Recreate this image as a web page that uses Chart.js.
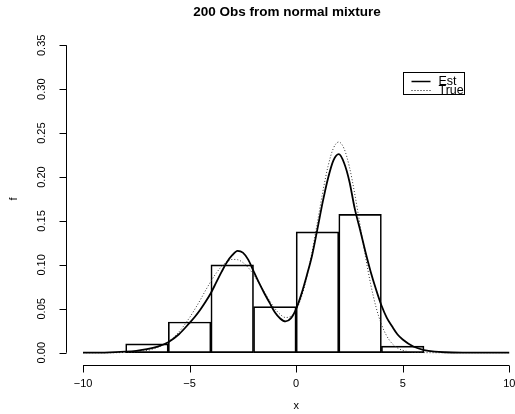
<!DOCTYPE html>
<html>
<head>
<meta charset="utf-8">
<script src="https://cdn.jsdelivr.net/npm/chart.js@4.4.1/dist/chart.umd.min.js"></script>
<style>
  body { margin: 0; background: #fff; }
  #wrap { width: 515px; height: 414px; }
</style>
</head>
<body>
<div id="wrap"><canvas id="grafico" width="515" height="414"></canvas></div>
<script>
const titulo = '200 Obs from normal mixture';
const xTitle = 'x';
const yTitle = 'f';

// histograma (densidad)
const histBreaks = [-8, -6, -4, -2, 0, 2, 4, 6];
const histDensity = [0.01, 0.035, 0.1, 0.0525, 0.1375, 0.1575, 0.0075];

// curvas
const gridX = [
  -10, -9, -8, -7.5, -7, -6.5, -6, -5.5, -5,
  -4.75, -4.5, -4.25, -4, -3.75, -3.5, -3.25, -3, -2.75,
  -2.5, -2.25, -2, -1.75, -1.5, -1.25, -1, -0.75, -0.5,
  -0.25, 0, 0.25, 0.5, 0.75, 1, 1.25, 1.5, 1.75,
  2, 2.25, 2.5, 2.75, 3, 3.25, 3.5, 3.75, 4,
  4.25, 4.5, 4.75, 5, 5.5, 6, 6.5, 7, 8, 9, 10
];
const estY = [
  0, 0.0002, 0.0012, 0.0022, 0.004, 0.007, 0.012, 0.021, 0.034,
  0.041, 0.049, 0.058, 0.068, 0.080, 0.092, 0.103, 0.111, 0.116,
  0.114, 0.106, 0.093, 0.080, 0.068, 0.057, 0.046, 0.039, 0.0356,
  0.039, 0.050, 0.067, 0.088, 0.111, 0.141, 0.172, 0.199, 0.219,
  0.226, 0.216, 0.195, 0.164, 0.140, 0.115, 0.092, 0.072, 0.054,
  0.040, 0.030, 0.021, 0.015, 0.007, 0.003, 0.0012, 0.0005, 0.0001, 0, 0
];
const trueY = [
  0, 0, 0.0003, 0.001, 0.0025, 0.006, 0.0126, 0.0237, 0.040,
  0.0497, 0.060, 0.071, 0.0813, 0.0906, 0.0982, 0.1035, 0.1062, 0.1059,
  0.1027, 0.0969, 0.089, 0.0795, 0.0693, 0.0593, 0.0504, 0.0436, 0.0401,
  0.0414, 0.0488, 0.0635, 0.0859, 0.1151, 0.1488, 0.183, 0.2127, 0.2329,
  0.2399, 0.2323, 0.2115, 0.1808, 0.1453, 0.1097, 0.0777, 0.0518, 0.0324,
  0.0191, 0.0105, 0.0055, 0.0027, 0.0005, 0.0001, 0, 0, 0, 0, 0
];

const xTicks = [-10, -5, 0, 5, 10];
const xTickLabels = ['\u221210', '\u22125', '0', '5', '10'];
const yTicks = [0, 0.05, 0.1, 0.15, 0.2, 0.25, 0.3, 0.35];
const yTickLabels = ['0.00', '0.05', '0.10', '0.15', '0.20', '0.25', '0.30', '0.35'];
const legendLabels = ['Est', 'True'];
const legendAt = { x: 5, y: 0.32 };

const FONT = '"Liberation Sans", Arial, Helvetica, sans-serif';

const barras = histDensity.map((d, i) => ({ x: (histBreaks[i] + histBreaks[i + 1]) / 2, y: d }));
const puntosEst = gridX.map((x, i) => ({ x: x, y: estY[i] }));
const puntosTrue = gridX.map((x, i) => ({ x: x, y: trueY[i] }));

// ejes estilo R, titulo y leyenda
const ejesR = {
  id: 'ejesR',
  afterDraw(chart) {
    const ctx = chart.ctx;
    const xs = chart.scales.x;
    const ys = chart.scales.y;
    const area = chart.chartArea;
    ctx.save();
    ctx.strokeStyle = '#000';
    ctx.fillStyle = '#000';
    ctx.lineWidth = 1;

    // eje x
    const yAx = Math.round(area.bottom) + 0.5;
    ctx.beginPath();
    ctx.moveTo(xs.getPixelForValue(xTicks[0]), yAx);
    ctx.lineTo(xs.getPixelForValue(xTicks[xTicks.length - 1]), yAx);
    xTicks.forEach(v => {
      const px = Math.round(xs.getPixelForValue(v)) + 0.5;
      ctx.moveTo(px, yAx);
      ctx.lineTo(px, yAx + 7);
    });
    ctx.stroke();
    ctx.font = '11px ' + FONT;
    ctx.textAlign = 'center';
    ctx.textBaseline = 'middle';
    xTicks.forEach((v, i) => {
      ctx.fillText(xTickLabels[i], xs.getPixelForValue(v), yAx + 18);
    });
    ctx.fillText(xTitle, xs.getPixelForValue(0), yAx + 40);

    // eje y
    const xAx = Math.round(area.left) + 0.5;
    ctx.beginPath();
    ctx.moveTo(xAx, ys.getPixelForValue(yTicks[0]));
    ctx.lineTo(xAx, ys.getPixelForValue(yTicks[yTicks.length - 1]));
    yTicks.forEach(v => {
      const py = Math.round(ys.getPixelForValue(v)) + 0.5;
      ctx.moveTo(xAx, py);
      ctx.lineTo(xAx - 7, py);
    });
    ctx.stroke();
    yTicks.forEach((v, i) => {
      ctx.save();
      ctx.translate(xAx - 25, ys.getPixelForValue(v));
      ctx.rotate(-Math.PI / 2);
      ctx.fillText(yTickLabels[i], 0, 0);
      ctx.restore();
    });
    ctx.save();
    const midY = (ys.getPixelForValue(yTicks[0]) + ys.getPixelForValue(yTicks[yTicks.length - 1])) / 2;
    ctx.translate(xAx - 53, midY);
    ctx.rotate(-Math.PI / 2);
    ctx.fillText(yTitle, 0, 0);
    ctx.restore();

    // titulo
    ctx.font = 'bold 13.5px ' + FONT;
    ctx.fillText(titulo, 287, 12);

    // leyenda
    const lx = Math.round(xs.getPixelForValue(legendAt.x)) + 0.5;
    const ly = Math.round(ys.getPixelForValue(legendAt.y)) + 0.5;
    ctx.strokeRect(lx, ly, 61, 22);
    ctx.lineWidth = 1.5;
    ctx.beginPath();
    ctx.moveTo(lx + 8, ly + 9);
    ctx.lineTo(lx + 27, ly + 9);
    ctx.stroke();
    ctx.lineWidth = 1;
    ctx.setLineDash([1, 2]);
    ctx.beginPath();
    ctx.moveTo(lx + 8, ly + 18);
    ctx.lineTo(lx + 27, ly + 18);
    ctx.stroke();
    ctx.setLineDash([]);
    ctx.font = '12.5px ' + FONT;
    ctx.textAlign = 'left';
    ctx.fillText(legendLabels[0], lx + 35, ly + 9);
    ctx.fillText(legendLabels[1], lx + 35, ly + 18.5);
    ctx.restore();
  }
};

const ctx = document.getElementById('grafico').getContext('2d');
new Chart(ctx, {
  type: 'bar',
  data: {
    datasets: [
      {
        type: 'line',
        label: legendLabels[0],
        data: puntosEst,
        borderColor: '#000',
        borderWidth: 1.8,
        pointRadius: 0,
        cubicInterpolationMode: 'monotone',
        fill: false,
        order: 0
      },
      {
        type: 'line',
        label: legendLabels[1],
        data: puntosTrue,
        borderColor: '#333',
        borderWidth: 1,
        borderDash: [1, 2],
        pointRadius: 0,
        cubicInterpolationMode: 'monotone',
        fill: false,
        order: 1
      },
      {
        type: 'bar',
        label: 'hist',
        data: barras,
        backgroundColor: 'rgba(0,0,0,0)',
        borderColor: '#000',
        borderWidth: 1,
        borderSkipped: false,
        barPercentage: 1,
        categoryPercentage: 1,
        order: 2
      }
    ]
  },
  options: {
    responsive: false,
    animation: false,
    devicePixelRatio: 1,
    layout: {
      padding: { left: 66, top: 33, right: 0, bottom: 49 }
    },
    scales: {
      x: {
        type: 'linear',
        display: false,
        offset: false,
        min: -10.8,
        max: 10.27,
        afterBuildTicks: (axis) => { axis.ticks = xTicks.map(v => ({ value: v })); }
      },
      y: {
        type: 'linear',
        display: false,
        min: -0.014,
        max: 0.364
      }
    },
    plugins: {
      legend: { display: false },
      tooltip: { enabled: false }
    }
  },
  plugins: [ejesR]
});
</script>
</body>
</html>
